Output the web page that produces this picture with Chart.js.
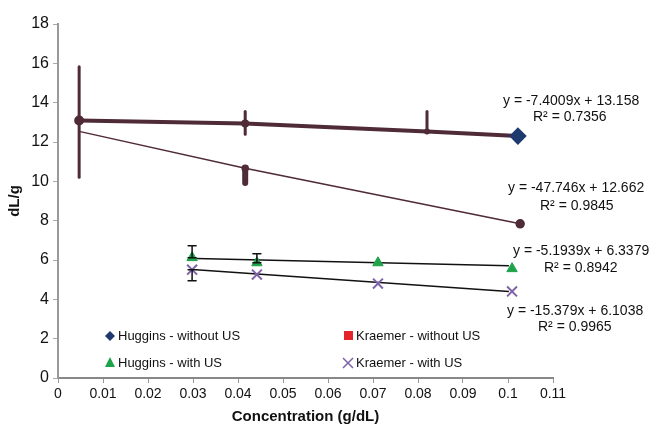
<!DOCTYPE html>
<html>
<head>
<meta charset="utf-8">
<script src="https://cdn.jsdelivr.net/npm/chart.js@4.4.1/dist/chart.umd.min.js"></script>
<style>
  html, body { margin: 0; padding: 0; background: #fff; }
  #contenedor { width: 653px; height: 430px; }
</style>
</head>
<body>
<div id="contenedor"><canvas id="grafico"></canvas></div>
<script>
// Datos (concentración en g/dL, viscosidad en dL/g)
const hugginsSinX = [0.0047, 0.0416, 0.082, 0.1022];
const hugginsSinY = [13.09, 12.94, 12.54, 12.3];
const hugginsSinErr = [[10.21, 15.82], [12.39, 13.55], [12.54, 13.55], null];

const kraemerSinX = [0.0047, 0.0416, 0.1027];
const kraemerSinY = [12.54, 10.67, 7.84];
const kraemerSinErr = [null, [9.91, 10.67], null];

const conUSX = [0.0298, 0.0442, 0.0711, 0.1009];
const hugginsConY = [6.12, 5.86, 5.86, 5.56];
const hugginsConErr = [[6.12, 6.72], [5.86, 6.32], null, null];
const kraemerConY = [5.51, 5.26, 4.80, 4.40];
const kraemerConErr = [[4.95, 5.51], null, null, null];

// Líneas de tendencia (extremos)
const tendenciaX = [0.0307, 0.1002];
const tendenciaHugginsY = [6.07, 5.71];
const tendenciaKraemerY = [5.51, 4.40];

const ejeXTicks = [0, 0.11, 0.01];
const ejeYTicks = [0, 18, 2];

const ecuaciones = [
    ['y = -7.4009x + 13.158', 'R² = 0.7356'],
    ['y = -47.746x + 12.662', 'R² = 0.9845'],
    ['y = -5.1939x + 6.3379', 'R² = 0.8942'],
    ['y = -15.379x + 6.1038', 'R² = 0.9965']
];
const nombresSeries = ['Huggins - without US', 'Kraemer - without US', 'Huggins - with US', 'Kraemer - with US'];

const GRANATE = '#4f2a37';
const AZUL = '#1f3a6e';
const ROJO = '#e3242b';
const VERDE = '#1fa34a';
const MORADO = '#7e63a8';

function puntos(xs, ys) {
    return xs.map((x, i) => ({ x: x, y: ys[i] }));
}

// Barras de error dibujadas con las escalas del gráfico
const barrasError = {
    id: 'barrasError',
    afterDatasetsDraw(chart) {
        const ctx = chart.ctx;
        const ex = chart.scales.x, ey = chart.scales.y;
        chart.data.datasets.forEach(ds => {
            if (!ds.errores) return;
            ds.errores.forEach((e, i) => {
                if (!e) return;
                const px = ex.getPixelForValue(ds.data[i].x);
                const y1 = ey.getPixelForValue(e[0]);
                const y2 = ey.getPixelForValue(e[1]);
                ctx.save();
                ctx.strokeStyle = ds.colorError;
                ctx.lineWidth = ds.anchoError;
                ctx.lineCap = 'round';
                ctx.beginPath();
                ctx.moveTo(px, y1);
                ctx.lineTo(px, y2);
                if (ds.conTope) {
                    ctx.moveTo(px - 4, y1); ctx.lineTo(px + 4, y1);
                    ctx.moveTo(px - 4, y2); ctx.lineTo(px + 4, y2);
                }
                ctx.stroke();
                ctx.restore();
            });
        });
    }
};

// Ecuaciones y leyenda dentro del área del gráfico
const anotaciones = {
    id: 'anotaciones',
    afterDraw(chart) {
        const ctx = chart.ctx;
        ctx.save();
        ctx.fillStyle = '#111';
        ctx.font = '14px "Liberation Sans", Arial, sans-serif';
        ctx.textBaseline = 'middle';
        ctx.textAlign = 'left';
        const posEc = [[503, 101, 533, 117], [508, 188, 540, 206], [513, 251, 544, 268], [507, 311, 538, 327]];
        ecuaciones.forEach((ec, i) => {
            const p = posEc[i];
            ctx.fillText(ec[0], p[0], p[1]);
            ctx.fillText(ec[1], p[2], p[3]);
        });

        // leyenda 2x2
        ctx.font = '13px "Liberation Sans", Arial, sans-serif';
        const posLey = [[110, 336], [348, 336], [110, 363], [348, 363]];
        nombresSeries.forEach((nombre, i) => {
            const [x, y] = posLey[i];
            ctx.fillStyle = '#111';
            ctx.fillText(nombre, x + 8, y);
            ctx.beginPath();
            if (i === 0) {
                ctx.fillStyle = AZUL;
                ctx.moveTo(x, y - 5); ctx.lineTo(x + 5, y); ctx.lineTo(x, y + 5); ctx.lineTo(x - 5, y);
                ctx.closePath(); ctx.fill();
            } else if (i === 1) {
                ctx.fillStyle = ROJO;
                ctx.fillRect(x - 4, y - 5, 9, 9);
            } else if (i === 2) {
                ctx.fillStyle = VERDE;
                ctx.moveTo(x, y - 6); ctx.lineTo(x + 5, y + 4); ctx.lineTo(x - 5, y + 4);
                ctx.closePath(); ctx.fill();
            } else {
                ctx.strokeStyle = MORADO;
                ctx.lineWidth = 1.5;
                ctx.moveTo(x - 5, y - 5); ctx.lineTo(x + 5, y + 5);
                ctx.moveTo(x + 5, y - 5); ctx.lineTo(x - 5, y + 5);
                ctx.stroke();
            }
        });
        ctx.restore();
    }
};

Chart.defaults.font.family = '"Liberation Sans", Arial, sans-serif';
Chart.defaults.color = '#111';

const grafico = new Chart(document.getElementById('grafico'), {
    type: 'scatter',
    data: {
        datasets: [
            {
                label: nombresSeries[0],
                data: puntos(hugginsSinX, hugginsSinY),
                showLine: true,
                borderColor: GRANATE,
                borderWidth: 4,
                pointStyle: ['circle', 'circle', 'circle', 'rectRot'],
                pointRadius: [3, 2, 1, 6],
                pointBackgroundColor: [GRANATE, GRANATE, GRANATE, AZUL],
                pointBorderColor: [GRANATE, GRANATE, GRANATE, AZUL],
                errores: hugginsSinErr,
                colorError: GRANATE,
                anchoError: 3,
                conTope: false,
                order: 2
            },
            {
                label: nombresSeries[1],
                data: puntos(kraemerSinX, kraemerSinY),
                showLine: true,
                borderColor: GRANATE,
                borderWidth: 1.5,
                pointRadius: [0, 3, 4],
                pointBackgroundColor: GRANATE,
                pointBorderColor: GRANATE,
                errores: kraemerSinErr,
                colorError: GRANATE,
                anchoError: 6,
                conTope: false,
                order: 3
            },
            {
                label: 'tendencia Huggins',
                data: puntos(tendenciaX, tendenciaHugginsY),
                showLine: true,
                borderColor: '#111',
                borderWidth: 1.5,
                pointRadius: 0,
                order: 4
            },
            {
                label: 'tendencia Kraemer',
                data: puntos(tendenciaX, tendenciaKraemerY),
                showLine: true,
                borderColor: '#111',
                borderWidth: 1.5,
                pointRadius: 0,
                order: 4
            },
            {
                label: nombresSeries[2],
                data: puntos(conUSX, hugginsConY),
                pointStyle: 'triangle',
                pointRadius: 6,
                pointBackgroundColor: VERDE,
                pointBorderColor: VERDE,
                errores: hugginsConErr,
                colorError: '#111',
                anchoError: 1.5,
                conTope: true,
                order: 1
            },
            {
                label: nombresSeries[3],
                data: puntos(conUSX, kraemerConY),
                pointStyle: 'crossRot',
                pointRadius: 7,
                pointBorderWidth: 2,
                pointBorderColor: MORADO,
                pointBackgroundColor: MORADO,
                errores: kraemerConErr,
                colorError: '#111',
                anchoError: 1.5,
                conTope: true,
                order: 0
            }
        ]
    },
    options: {
        responsive: true,
        maintainAspectRatio: false,
        animation: false,
        layout: { padding: { top: 24, right: 100, left: 0, bottom: 0 } },
        plugins: {
            legend: { display: false },
            tooltip: { enabled: false }
        },
        scales: {
            x: {
                type: 'linear',
                min: ejeXTicks[0],
                max: ejeXTicks[1],
                afterFit(escala) { escala.height = 52; },
                ticks: {
                    stepSize: ejeXTicks[2],
                    font: { size: 14 },
                    padding: 3,
                    maxRotation: 0,
                    callback: v => String(Number(v.toFixed(2)))
                },
                grid: { drawOnChartArea: false, drawTicks: true, tickLength: 5, color: '#999' },
                border: { color: '#888', width: 2 },
                title: {
                    display: true,
                    text: 'Concentration (g/dL)',
                    font: { size: 15, weight: 'bold' },
                    padding: { top: 4, bottom: 4 }
                }
            },
            y: {
                min: ejeYTicks[0],
                max: ejeYTicks[1],
                afterFit(escala) { escala.width = 58; },
                ticks: {
                    stepSize: ejeYTicks[2],
                    font: { size: 16 },
                    padding: 4
                },
                grid: { drawOnChartArea: false, drawTicks: true, tickLength: 5, color: '#aaa' },
                border: { color: '#999', width: 2 },
                title: {
                    display: true,
                    text: 'dL/g',
                    font: { size: 15, weight: 'bold' },
                    padding: { top: 6, bottom: 2 }
                }
            }
        }
    },
    plugins: [barrasError, anotaciones]
});
</script>
</body>
</html>
